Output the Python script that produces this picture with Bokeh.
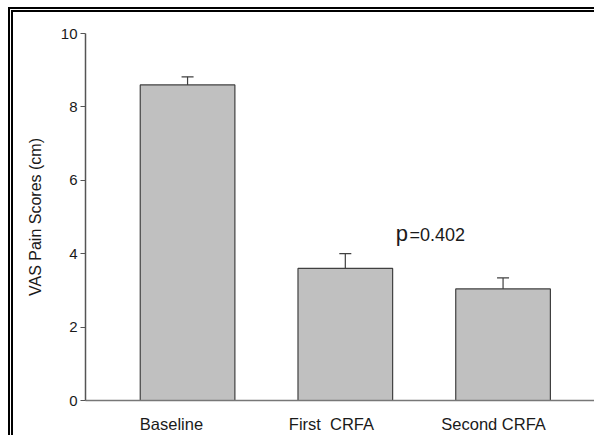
from bokeh.plotting import figure
from bokeh.models import Range1d, FixedTicker, Whisker, TeeHead, ColumnDataSource, Label
from bokeh.embed import file_html
from bokeh.resources import INLINE

categories = ["Baseline", "First\u00a0 CRFA", "Second CRFA"]
positions = [1, 2, 3]
label_positions = [0.898, 1.912, 2.94]
means = [8.6, 3.6, 3.04]
sems = [0.22, 0.40, 0.30]
y_ticks = [0, 2, 4, 6, 8, 10]
p_text = "0.402"

FONT = "Liberation Sans"

p = figure(width=586, height=428, output_backend="svg", toolbar_location=None,
           x_range=Range1d(0.353, 3.605), y_range=Range1d(0, 10),
           min_border_left=72, min_border_right=1, min_border_top=21, min_border_bottom=40)
p.styles = {"border-top": "5px double #000000", "border-left": "5px double #000000",
            "margin-top": "7px", "margin-left": "8px"}
p.outline_line_color = None
p.xgrid.visible = False
p.ygrid.visible = False
p.background_fill_color = "white"
p.border_fill_color = "white"

src = ColumnDataSource(dict(x=positions, top=means,
                            upper=[m + s for m, s in zip(means, sems)]))
p.vbar(x="x", top="top", bottom=0, width=0.6, source=src,
       fill_color="#c0c0c0", line_color="#404040", line_width=1.2)
w = Whisker(base="x", lower="top", upper="upper", source=src, dimension="height",
            line_color="#404040", line_width=1.2,
            upper_head=TeeHead(size=12, line_color="#404040", line_width=1.2),
            lower_head=None)
p.add_layout(w)

# y axis
ya = p.yaxis[0]
ya.ticker = FixedTicker(ticks=y_ticks)
ya.axis_label = "VAS Pain Scores (cm)"
ya.axis_label_text_font = FONT
ya.axis_label_text_font_style = "normal"
ya.axis_label_text_font_size = "16px"
ya.axis_label_text_color = "#1a1a1a"
ya.axis_label_standoff = 14
ya.major_label_text_font = FONT
ya.major_label_text_font_size = "15px"
ya.major_label_text_color = "#1a1a1a"
ya.axis_line_color = "#555555"
ya.axis_line_width = 1.5
ya.major_tick_line_color = "#555555"
ya.major_tick_in = 0
ya.major_tick_out = 5
ya.minor_tick_line_color = None
ya.major_label_standoff = 3

# x axis
xa = p.xaxis[0]
xa.ticker = FixedTicker(ticks=label_positions)
xa.major_label_overrides = {pos: c for pos, c in zip(label_positions, categories)}
xa.major_label_text_font = FONT
xa.major_label_text_font_size = "16.5px"
xa.major_label_text_color = "#1a1a1a"
xa.major_tick_line_color = None
xa.minor_tick_line_color = None
xa.axis_line_color = "#777777"
xa.axis_line_width = 1.5
xa.major_label_standoff = 8

p.add_layout(Label(x=2.319, y=4.564, text="p", text_font=FONT, text_font_size="22px",
                   text_color="#1a1a1a", text_baseline="alphabetic"))
p.add_layout(Label(x=2.407, y=4.496, text="=" + p_text, text_font=FONT, text_font_size="18px",
                   text_color="#1a1a1a", text_baseline="alphabetic"))

open("out.html", "w").write(file_html(p, INLINE))
